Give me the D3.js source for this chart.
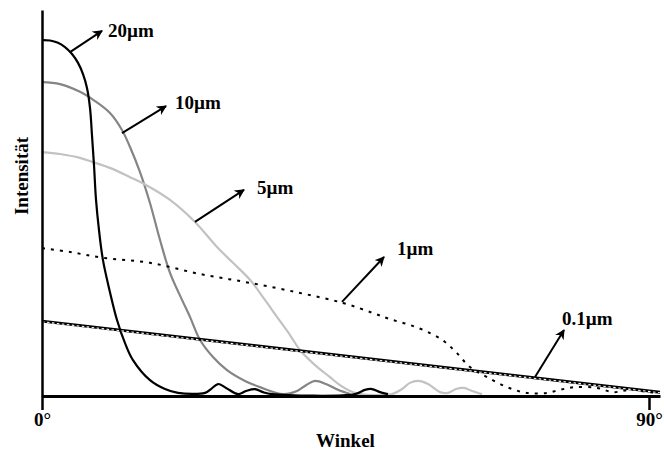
<!DOCTYPE html>
<html lang="de">
<head>
    <meta charset="UTF-8">
    <title>Intensität vs. Winkel</title>
    <script src="https://cdnjs.cloudflare.com/ajax/libs/d3/7.8.5/d3.min.js"></script>
    <style>
        body {
            margin: 0;
            background-color: white;
        }
        svg text {
            font-family: "Liberation Serif", "Times New Roman", serif;
            font-weight: bold;
            font-size: 19px;
            fill: #000;
        }
    </style>
</head>
<body>
    <svg id="chart" width="664" height="452"></svg>

    <script>
        // Angle in degrees, intensity in arbitrary units (0-100)
        const angle20 = [0, 1.19, 2.37, 3.41, 4.45, 5.34, 6.08, 6.67, 7.12, 7.41, 7.71, 8.01, 8.45, 9.04, 10.08, 11.12, 12.31, 13.49, 16.01, 18.24, 20.16, 24.17, 25.06, 26.10, 27.28, 29.06, 30.25, 31.58, 32.77, 34.10, 46.41, 47.89, 48.93, 50.12, 51.30];
        const int20 = [92.2, 92.1, 91.5, 90.4, 88.6, 86.3, 83.4, 79.8, 74.6, 67.6, 59.8, 50.8, 43.0, 35.2, 26.9, 19.7, 13.7, 9.3, 4.1, 1.8, 0.8, 0.8, 1.8, 3.1, 2.1, 0.5, 1.3, 1.8, 1.0, 0.5, 0.5, 1.6, 1.8, 1.0, 0.5];

        const angle10 = [0, 2.67, 5.63, 7.86, 10.08, 11.86, 13.05, 14.53, 16.01, 17.50, 18.98, 20.76, 21.94, 23.43, 25.35, 27.43, 30.10, 32.32, 35.73, 37.81, 39.14, 40.48, 42.11, 43.89, 45.67];
        const int10 = [81.3, 80.8, 78.8, 76.4, 73.3, 68.9, 64.5, 58.0, 50.0, 40.4, 31.9, 24.9, 20.5, 14.5, 10.1, 6.7, 3.9, 2.3, 0.5, 1.3, 2.8, 3.9, 3.1, 1.6, 0.5];

        const angle5 = [0, 2.67, 5.63, 7.56, 10.08, 13.05, 16.01, 18.98, 22.68, 25.95, 28.32, 30.84, 33.06, 34.84, 36.77, 38.25, 40.48, 42.70, 44.18, 45.67, 47.15, 51.89, 53.38, 54.56, 55.75, 57.23, 59.01, 60.20, 61.38, 62.57, 63.75, 65.24];
        const int5 = [63.2, 62.7, 61.7, 60.6, 59.1, 56.7, 54.1, 50.8, 45.1, 38.6, 34.5, 30.1, 24.9, 20.5, 15.8, 11.9, 8.0, 4.9, 2.8, 1.3, 0.5, 0.5, 1.8, 3.4, 3.9, 3.1, 1.0, 0.8, 1.8, 2.1, 1.3, 0.5];

        const angle1 = [0, 4.15, 9.04, 16.01, 23.43, 30.84, 38.25, 44.63, 49.08, 51.60, 54.56, 57.53, 59.75, 61.53, 63.46, 65.98, 68.95, 71.91, 74.88, 76.80, 79.03, 82.29, 84.66, 87.18, 90.15, 91.63];
        const int1 = [38.3, 37.3, 35.8, 34.5, 31.6, 29.3, 26.7, 24.1, 21.5, 19.9, 18.4, 16.3, 14.0, 11.1, 7.5, 4.9, 2.3, 0.8, 0.8, 1.6, 2.3, 2.1, 1.0, 1.6, 1.0, 0.8];

        const angle01 = [0, 91.63];
        const int01 = [19.4, 1.0];

        // Annotation arrows, in angle / intensity units
        const labels = ["20µm", "10µm", "5µm", "1µm", "0.1µm"];
        const arrowFrom = [[4.15, 89.1], [11.86, 68.1], [22.68, 45.1], [44.48, 24.4], [73.10, 4.9]];
        const arrowTo = [[8.90, 94.6], [18.39, 75.1], [29.95, 53.4], [50.71, 36.0], [77.40, 17.1]];
        const labelAt = [[9.79, 94.6], [19.72, 76.2], [31.88, 54.1], [52.64, 38.3], [77.10, 20.2]];

        const xTicks = [0, 90];

        const svg = d3.select("#chart");

        // 90° sits at x=649, the axis runs on a bit past it
        const xScale = d3.scaleLinear().domain([0, 90]).range([42, 649]);
        const xMax = xScale.invert(660);
        xScale.domain([0, xMax]).range([42, 660]);
        const yScale = d3.scaleLinear().domain([0, 100]).range([396, 10]);

        const zip = (xs, ys) => xs.map((x, i) => [x, ys[i]]);

        const line = d3.line()
            .x(d => xScale(d[0]))
            .y(d => yScale(d[1]))
            .curve(d3.curveCatmullRom.alpha(0.5));

        // Curves
        svg.append("path")
            .attr("d", line(zip(angle10, int10)))
            .attr("fill", "none")
            .attr("stroke", "#858585")
            .attr("stroke-width", 2.2);

        svg.append("path")
            .attr("d", line(zip(angle5, int5)))
            .attr("fill", "none")
            .attr("stroke", "#c2c2c2")
            .attr("stroke-width", 2.2);

        svg.append("path")
            .attr("d", line(zip(angle20, int20)))
            .attr("fill", "none")
            .attr("stroke", "#000")
            .attr("stroke-width", 2.2);

        svg.append("path")
            .attr("d", line(zip(angle1, int1)))
            .attr("fill", "none")
            .attr("stroke", "#000")
            .attr("stroke-width", 2)
            .attr("stroke-dasharray", "3,6");

        // 0.1µm: solid line with a light dashed strip through it
        svg.append("path")
            .attr("d", line(zip(angle01, int01)))
            .attr("fill", "none")
            .attr("stroke", "#000")
            .attr("stroke-width", 3);
        svg.append("path")
            .attr("d", line(zip(angle01, int01)))
            .attr("fill", "none")
            .attr("stroke", "#fff")
            .attr("stroke-width", 1.1)
            .attr("stroke-dasharray", "2.5,2.5")
            .attr("transform", "translate(0,0.6)");

        // Axes
        const xAxis = svg.append("g")
            .attr("transform", `translate(0,${yScale(0)})`)
            .call(d3.axisBottom(xScale)
                .tickValues(xTicks)
                .tickSize(14)
                .tickSizeOuter(0)
                .tickFormat(d => d + "°"));
        xAxis.attr("font-size", null).attr("font-family", null);
        xAxis.select(".domain").attr("stroke", "#000").attr("stroke-width", 3);
        xAxis.selectAll(".tick line").attr("stroke", "#000").attr("stroke-width", 2.5);
        xAxis.selectAll(".tick text")
            .attr("y", 0)
            .attr("dy", "1.6em");

        const yAxis = svg.append("g")
            .attr("transform", `translate(${xScale(0)},0)`)
            .call(d3.axisLeft(yScale).tickValues([]).tickSizeOuter(0));
        yAxis.select(".domain").attr("stroke", "#000").attr("stroke-width", 2.5);

        // Axis titles
        svg.append("text")
            .attr("x", (xScale(0) + xScale(90)) / 2)
            .attr("y", 440)
            .attr("dy", "0.35em")
            .attr("text-anchor", "middle")
            .text("Winkel");

        svg.append("text")
            .attr("transform", "translate(21,176) rotate(-90)")
            .attr("dy", "0.35em")
            .attr("text-anchor", "middle")
            .text("Intensität");

        // Arrowhead
        svg.append("defs").append("marker")
            .attr("id", "head")
            .attr("viewBox", "0 0 10 10")
            .attr("refX", 9)
            .attr("refY", 5)
            .attr("markerWidth", 10)
            .attr("markerHeight", 10)
            .attr("markerUnits", "userSpaceOnUse")
            .attr("orient", "auto")
            .append("path")
            .attr("d", "M0,0 L10,5 L0,10 L3,5 Z")
            .attr("fill", "#000");

        labels.forEach((lab, i) => {
            svg.append("line")
                .attr("x1", xScale(arrowFrom[i][0]))
                .attr("y1", yScale(arrowFrom[i][1]))
                .attr("x2", xScale(arrowTo[i][0]))
                .attr("y2", yScale(arrowTo[i][1]))
                .attr("stroke", "#000")
                .attr("stroke-width", 2)
                .attr("marker-end", "url(#head)");

            svg.append("text")
                .attr("x", xScale(labelAt[i][0]))
                .attr("y", yScale(labelAt[i][1]))
                .attr("dy", "0.35em")
                .text(lab);
        });
    </script>
</body>
</html>
